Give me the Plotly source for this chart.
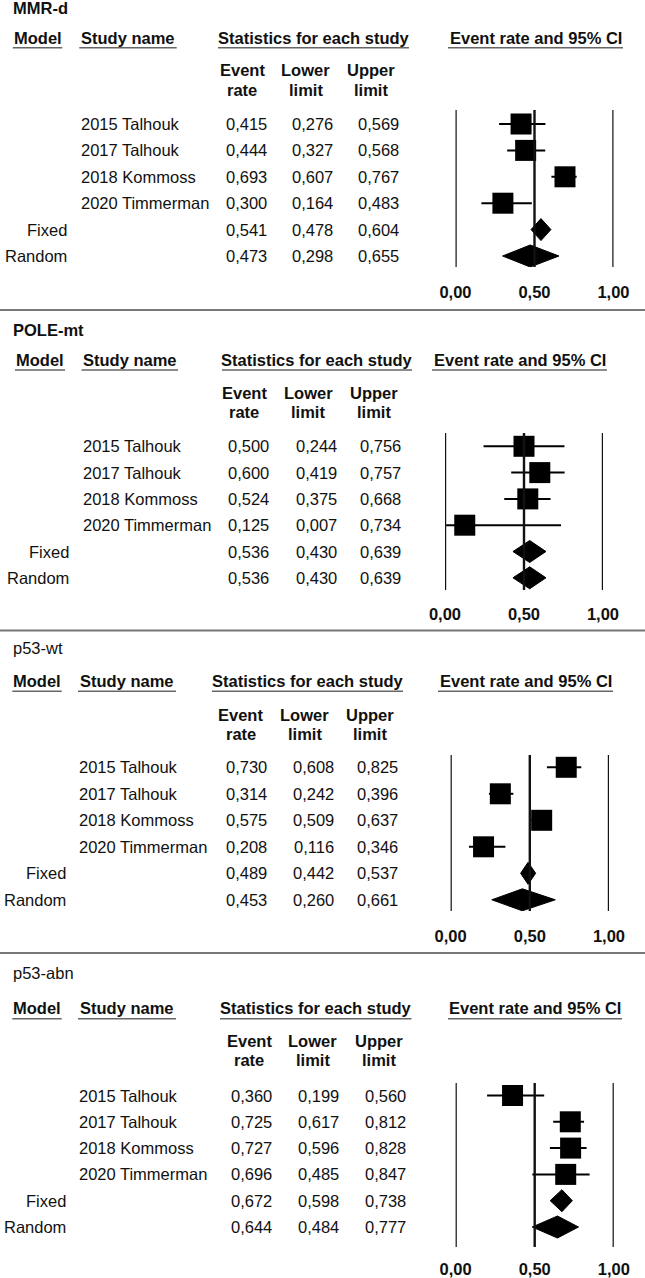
import plotly.graph_objects as go

W, H = 645, 1278
FONT = "Liberation Sans, Arial, sans-serif"
INK = "#111111"

panel_titles = ["MMR-d", "POLE-mt", "p53-wt", "p53-abn"]
study_names = ["2015 Talhouk", "2017 Talhouk", "2018 Kommoss", "2020 Timmerman"]
model_names = ["Fixed", "Random"]
tick_vals = [0, 0.5, 1]
tick_text = ["0,00", "0,50", "1,00"]

# 4 studies, then Fixed and Random
mmr_rate = [0.415, 0.444, 0.693, 0.300, 0.541, 0.473]
mmr_lower = [0.276, 0.327, 0.607, 0.164, 0.478, 0.298]
mmr_upper = [0.569, 0.568, 0.767, 0.483, 0.604, 0.655]

pole_rate = [0.500, 0.600, 0.524, 0.125, 0.536, 0.536]
pole_lower = [0.244, 0.419, 0.375, 0.007, 0.430, 0.430]
pole_upper = [0.756, 0.757, 0.668, 0.734, 0.639, 0.639]

wt_rate = [0.730, 0.314, 0.575, 0.208, 0.489, 0.453]
wt_lower = [0.608, 0.242, 0.509, 0.116, 0.442, 0.260]
wt_upper = [0.825, 0.396, 0.637, 0.346, 0.537, 0.661]

abn_rate = [0.360, 0.725, 0.727, 0.696, 0.672, 0.644]
abn_lower = [0.199, 0.617, 0.596, 0.485, 0.598, 0.484]
abn_upper = [0.560, 0.812, 0.828, 0.847, 0.738, 0.777]

panel_data = [
    (mmr_rate, mmr_lower, mmr_upper),
    (pole_rate, pole_lower, pole_upper),
    (wt_rate, wt_lower, wt_upper),
    (abn_rate, abn_lower, abn_upper),
]

geom = [
    dict(title_y=8, bold=True, head_y=37.5, ul_y=47.7,
         spans=[(12.7, 62.3), (79.3, 176.7), (218, 409), (448, 623)],
         sub_y=(70.5, 90), sub_x=(242, 305.5, 371),
         row0=124, step=26.4, name_x=80, model_r=68, num_r=(268.3, 334.3, 400),
         ax0=455.5, ax1=613.5, top=110, bot=267, ticklen=10, sep=310),
    dict(title_y=330, bold=True, head_y=360, ul_y=370,
         spans=[(15, 65), (81.5, 178), (222, 412), (432, 607)],
         sub_y=(393, 412), sub_x=(244, 308, 374),
         row0=446.3, step=26.3, name_x=81.5, model_r=70, num_r=(270, 337.5, 402),
         ax0=445, ax1=603, top=433, bot=590, ticklen=9, sep=630.5),
    dict(title_y=648, bold=False, head_y=681.3, ul_y=691.3,
         spans=[(12.3, 61.7), (78, 176), (212, 403), (438, 613)],
         sub_y=(714.7, 734), sub_x=(240.7, 304.5, 370),
         row0=767.3, step=26.5, name_x=78, model_r=67, num_r=(267.5, 334.6, 399),
         ax0=450.6, ax1=609, top=755, bot=911, ticklen=10, sep=953),
    dict(title_y=973, bold=False, head_y=1008, ul_y=1018.7,
         spans=[(12.3, 61.7), (78, 176), (220, 411.5), (448, 622)],
         sub_y=(1040.7, 1060), sub_x=(249, 312.8, 378.6),
         row0=1095.5, step=26.3, name_x=78, model_r=67, num_r=(272.8, 340, 406.6),
         ax0=455.6, ax1=613.8, top=1083, bot=1247, ticklen=7, sep=None),
]

headers = ["Model", "Study name", "Statistics for each study", "Event rate and 95% CI"]
sub_top = ["Event", "Lower", "Upper"]
sub_bot = ["rate", "limit", "limit"]


def px(x):
    return x / W


def py(y):
    return 1 - y / H


def fmt(v):
    return f"{v:.3f}".replace(".", ",")


fig = go.Figure()
annotations = []
shapes = []
layout_axes = {}


def label(x, y, text, anchor, size=16.5, bold=False):
    annotations.append(dict(
        x=px(x), y=py(y), xref="paper", yref="paper", text=text,
        xanchor=anchor, yanchor="middle", showarrow=False, borderpad=0,
        font=dict(family=FONT, size=size, color=INK, weight="bold" if bold else "normal"),
    ))


for i, (g, (rate, lower, upper)) in enumerate(zip(geom, panel_data)):
    n = i + 1
    xa = "x" if n == 1 else f"x{n}"
    ya = "y" if n == 1 else f"y{n}"

    # titles and headers
    label(11.5, g["title_y"], panel_titles[i], "left", 16.5, g["bold"])
    for (a, b), h in zip(g["spans"], headers):
        label((a + b) / 2, g["head_y"], h, "center", 16.5, True)
        shapes.append(dict(type="line", xref="paper", yref="paper",
                           x0=px(a), x1=px(b), y0=py(g["ul_y"]), y1=py(g["ul_y"]),
                           line=dict(color="#666666", width=1.6)))
    for cx, t1, t2 in zip(g["sub_x"], sub_top, sub_bot):
        label(cx, g["sub_y"][0], t1, "center", 16.5, True)
        label(cx, g["sub_y"][1], t2, "center", 16.5, True)

    # table rows
    row_names = study_names + model_names
    for r in range(6):
        yy = g["row0"] + r * g["step"]
        if r < 4:
            label(g["name_x"], yy, row_names[r], "left")
        else:
            label(g["model_r"], yy, row_names[r], "right")
        for xr, vals in zip(g["num_r"], (rate, lower, upper)):
            label(xr, yy, fmt(vals[r]), "right")

    if g["sep"] is not None:
        shapes.append(dict(type="line", xref="paper", yref="paper",
                           x0=0, x1=1, y0=py(g["sep"]), y1=py(g["sep"]),
                           line=dict(color="#777777", width=2)))

    # forest plot
    rows = list(range(6))
    fig.add_trace(go.Scatter(
        x=rate[:4], y=rows[:4], mode="markers", xaxis=xa, yaxis=ya,
        marker=dict(symbol="square", size=21, color="black", line=dict(width=0)),
        error_x=dict(type="data", symmetric=False,
                     array=[u - e for u, e in zip(upper[:4], rate[:4])],
                     arrayminus=[e - l for e, l in zip(rate[:4], lower[:4])],
                     width=0, thickness=2, color="black"),
        cliponaxis=False, showlegend=False, hoverinfo="skip",
    ))
    half = 11 / g["step"]
    for r in (4, 5):
        fig.add_trace(go.Scatter(
            x=[lower[r], rate[r], upper[r], rate[r], lower[r]],
            y=[r, r - half, r, r + half, r],
            mode="lines", fill="toself", fillcolor="black",
            line=dict(color="black", width=1), xaxis=xa, yaxis=ya,
            cliponaxis=False, showlegend=False, hoverinfo="skip",
        ))

    for v in tick_vals:
        shapes.append(dict(type="line", xref=xa, yref=f"{ya} domain",
                           x0=v, x1=v, y0=0, y1=1,
                           line=dict(color=INK, width=2.4)))

    sp = g["step"]
    layout_axes["xaxis" if n == 1 else f"xaxis{n}"] = dict(
        domain=[px(g["ax0"]), px(g["ax1"])], range=[0, 1], anchor=ya,
        tickvals=tick_vals, ticktext=tick_text, ticks="outside", ticklen=g["ticklen"],
        tickcolor="rgba(0,0,0,0)", showgrid=False, zeroline=False, showline=False,
        automargin=False,
        tickfont=dict(family=FONT, size=16.5, color=INK, weight="bold"),
    )
    layout_axes["yaxis" if n == 1 else f"yaxis{n}"] = dict(
        domain=[py(g["bot"]), py(g["top"])],
        range=[(g["bot"] - g["row0"]) / sp, (g["top"] - g["row0"]) / sp],
        anchor=xa, showgrid=False, zeroline=False, showline=False,
        showticklabels=False, ticks="", automargin=False,
    )

fig.update_layout(
    width=W, height=H, autosize=False, margin=dict(l=0, r=0, t=0, b=0, pad=0),
    paper_bgcolor="white", plot_bgcolor="white",
    annotations=annotations, shapes=shapes, showlegend=False,
    **layout_axes,
)

fig.write_html(
    "out.html",
    config={"displayModeBar": False},
    post_script="document.body.style.margin='0';document.body.style.overflow='hidden';",
)
